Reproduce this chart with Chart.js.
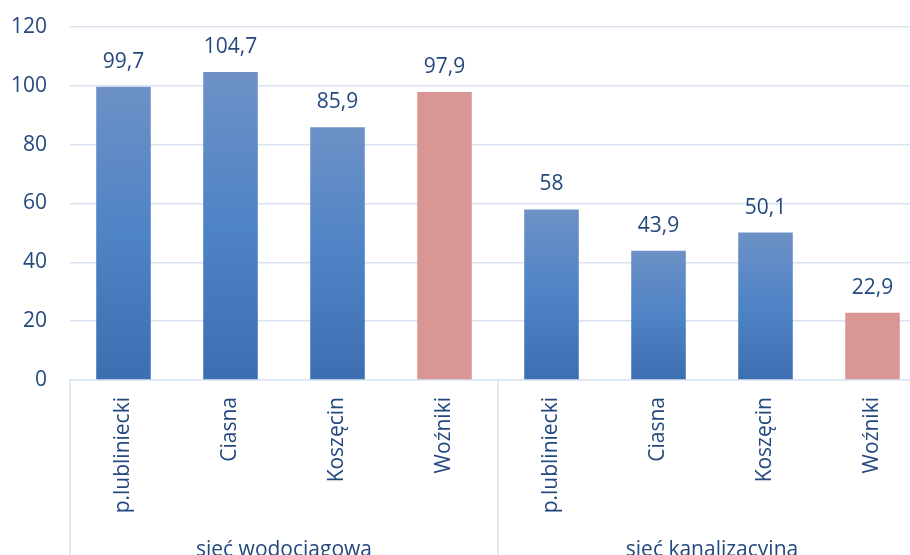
<!DOCTYPE html>
<html>
<head>
<meta charset="utf-8">
<script src="https://cdn.jsdelivr.net/npm/chart.js@4/dist/chart.umd.min.js"></script>
<style>
    html, body { margin: 0; padding: 0; overflow: hidden; background: #fff; }
    #wrap { width: 926px; height: 555px; }
</style>
</head>
<body>
<div id="wrap"><canvas id="networkChart" width="926" height="555"></canvas></div>
<script>
const categories = ['p.lubliniecki', 'Ciasna', 'Koszęcin', 'Woźniki', 'p.lubliniecki', 'Ciasna', 'Koszęcin', 'Woźniki'];
const values = [99.7, 104.7, 85.9, 97.9, 58, 43.9, 50.1, 22.9];
const groups = ['sieć wodociągowa', 'sieć kanalizacyjna'];
const groupSize = 4;
const yTicks = [0, 20, 40, 60, 80, 100, 120];

const TEXT_COLOR = '#24497e';
const GRID_COLOR = '#d9e3f2';
const FONT = "'Open Sans', sans-serif";

function barColor(ctx) {
    if (categories[ctx.dataIndex] === 'Woźniki') return '#d99694';
    const chart = ctx.chart;
    const y = chart.scales && chart.scales.y;
    if (!chart.chartArea || !y) return '#4a7ec2';
    const top = y.getPixelForValue(values[ctx.dataIndex]);
    const bottom = y.getPixelForValue(0);
    const g = chart.ctx.createLinearGradient(0, top, 0, bottom);
    g.addColorStop(0, '#6d91c6');
    g.addColorStop(0.5, '#4e83c6');
    g.addColorStop(1, '#3c6fb1');
    return g;
}

// value labels above the bars + group labels / separators under the axis
const extrasPlugin = {
    id: 'extras',
    afterDatasetsDraw(chart) {
        const ctx = chart.ctx;
        const meta = chart.getDatasetMeta(0);
        ctx.save();
        ctx.font = '21px ' + FONT;
        ctx.fillStyle = TEXT_COLOR;
        ctx.textAlign = 'center';
        ctx.textBaseline = 'alphabetic';
        meta.data.forEach((bar, i) => {
            ctx.fillText(String(values[i]).replace('.', ','), bar.x, bar.y - 19);
        });

        const x = chart.scales.x;
        const area = chart.chartArea;
        const half = (x.getPixelForValue(1) - x.getPixelForValue(0)) / 2;
        ctx.strokeStyle = GRID_COLOR;
        ctx.lineWidth = 1.5;
        for (let g = 0; g <= groups.length; g++) {
            const idx = g * groupSize;
            const px = x.getPixelForValue(Math.min(idx, categories.length - 1)) + (idx >= categories.length ? half : -half);
            ctx.beginPath();
            ctx.moveTo(px, area.bottom);
            ctx.lineTo(px, chart.height);
            ctx.stroke();
        }
        groups.forEach((name, g) => {
            const left = x.getPixelForValue(g * groupSize) - half;
            const right = x.getPixelForValue(g * groupSize + groupSize - 1) + half;
            ctx.fillText(name, (left + right) / 2, 556);
        });
        ctx.restore();
    }
};

new Chart(document.getElementById('networkChart'), {
    type: 'bar',
    data: {
        labels: categories,
        datasets: [{
            data: values,
            backgroundColor: barColor,
            categoryPercentage: 1,
            barPercentage: 0.51
        }]
    },
    options: {
        responsive: false,
        animation: false,
        layout: { padding: { top: 27, left: 0, right: 0, bottom: 0 } },
        plugins: {
            legend: { display: false },
            tooltip: { enabled: false }
        },
        scales: {
            x: {
                afterFit: scale => { scale.height = 175; },
                grid: { display: false, drawTicks: false },
                border: { display: true, color: GRID_COLOR, width: 1.5 },
                ticks: {
                    autoSkip: false,
                    minRotation: 90,
                    maxRotation: 90,
                    padding: 17,
                    color: TEXT_COLOR,
                    font: { family: FONT, size: 21 }
                }
            },
            y: {
                min: 0,
                max: 120,
                afterFit: scale => { scale.width = 70; },
                afterBuildTicks: scale => { scale.ticks = yTicks.map(v => ({ value: v })); },
                grid: { color: GRID_COLOR, lineWidth: 1.5, drawTicks: true, tickLength: 20, tickColor: 'rgba(0,0,0,0)' },
                border: { display: false },
                ticks: {
                    padding: 3,
                    color: TEXT_COLOR,
                    font: { family: FONT, size: 21 }
                }
            }
        }
    },
    plugins: [extrasPlugin]
});
</script>
</body>
</html>
